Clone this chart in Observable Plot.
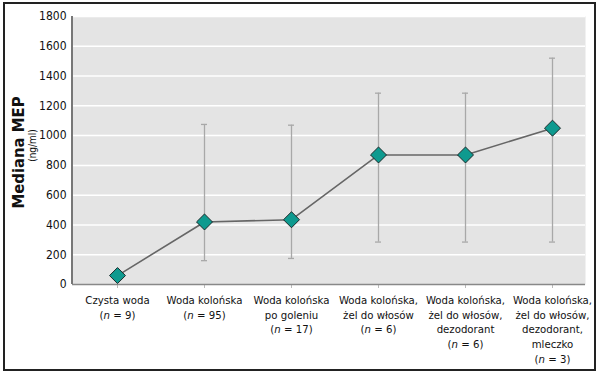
<!DOCTYPE html>
<html>
<head>
<meta charset="utf-8">
<script src="https://cdn.jsdelivr.net/npm/d3@7"></script>
<script src="https://cdn.jsdelivr.net/npm/@observablehq/plot@0.6"></script>
<style>
  html, body { margin: 0; padding: 0; background: #fff; }
  #wrap { position: relative; width: 600px; height: 374px; }
  #border { position: absolute; left: 3px; top: 2px; width: 589px; height: 365px; border: 2px solid #222; pointer-events: none; }
  svg text { font-family: "DejaVu Sans Condensed", sans-serif; font-stretch: condensed; }
</style>
</head>
<body>
<div id="wrap"><div id="border"></div></div>
<script>
const categories = [
  "Czysta woda\n(n = 9)",
  "Woda kolońska\n(n = 95)",
  "Woda kolońska\npo goleniu\n(n = 17)",
  "Woda kolońska,\nżel do włosów\n(n = 6)",
  "Woda kolońska,\nżel do włosów,\ndezodorant\n(n = 6)",
  "Woda kolońska,\nżel do włosów,\ndezodorant,\nmleczko\n(n = 3)"
];
const medians = [60, 420, 435, 870, 870, 1050];
const lows = [null, 160, 175, 285, 285, 285];
const highs = [null, 1075, 1070, 1285, 1285, 1520];
const yTicks = [0, 200, 400, 600, 800, 1000, 1200, 1400, 1600, 1800];

const data = categories.map((c, i) => ({cat: c, median: medians[i], low: lows[i], high: highs[i]}));
const errs = data.filter(d => d.low != null);

const chart = Plot.plot({
  width: 600,
  height: 374,
  marginLeft: 72,
  marginRight: 15,
  marginTop: 16,
  marginBottom: 90,
  style: {fontSize: "11.5px", color: "#111", background: "transparent"},
  x: {type: "point", domain: categories, range: [115, 553], padding: 0, label: null},
  y: {domain: [0, 1800], ticks: yTicks, tickFormat: d => String(d), label: null},
  marks: [
    Plot.frame({fill: "#e4e4e4", stroke: null}),
    Plot.gridY(yTicks.filter(t => t > 0), {stroke: "#fff", strokeOpacity: 1, strokeWidth: 1.5}),
    Plot.axisY({ticks: yTicks, tickFormat: d => String(d), tickSize: 0, tickPadding: 6, fontSize: 12, label: null}),
    Plot.axisX({tickSize: 4, stroke: "#bbb", tickPadding: 5, lineHeight: 1.3, fontSize: 11.3, label: null}),
    Plot.ruleX(errs, {x: "cat", y1: "low", y2: "high", stroke: "#a8a8a8", strokeWidth: 1.3}),
    Plot.ruleY(errs, {x1: "cat", x2: "cat", y: "low", stroke: "#a8a8a8", strokeWidth: 1.3, insetLeft: -3, insetRight: -3}),
    Plot.ruleY(errs, {x1: "cat", x2: "cat", y: "high", stroke: "#a8a8a8", strokeWidth: 1.3, insetLeft: -3, insetRight: -3}),
    Plot.ruleY([0], {stroke: "#888", strokeWidth: 1.5}),
    Plot.line(data, {x: "cat", y: "median", stroke: "#666", strokeWidth: 1.6}),
    Plot.dot(data, {x: "cat", y: "median", symbol: "diamond2", r: 7.2, fill: "#0e9a8f", stroke: "#1b2b2b", strokeWidth: 1, fillOpacity: 1}),
    Plot.text(["Mediana MEP"], {frameAnchor: "left", textAnchor: "middle", dx: -54, dy: 2, rotate: -90, fontSize: 16.5, fontWeight: "bold", fontFamily: "Liberation Sans, Arial, sans-serif", fill: "#111"}),
    Plot.text(["(ng/ml)"], {frameAnchor: "left", textAnchor: "middle", dx: -40, dy: -5, rotate: -90, fontSize: 10, fontFamily: "Liberation Sans, Arial, sans-serif", fill: "#111"})
  ]
});

// left axis line
const svg = d3.select(chart);
svg.append("line")
  .attr("x1", 72).attr("x2", 72)
  .attr("y1", 16).attr("y2", 284)
  .attr("stroke", "#777").attr("stroke-width", 2);

// italic "n"
svg.selectAll("tspan").each(function() {
  const t = this.textContent;
  const m = t.match(/^\(n = (\d+)\)$/);
  if (m) {
    const el = d3.select(this);
    el.text("(");
    el.append("tspan").attr("font-style", "italic").text("n");
    el.append("tspan").text(" = " + m[1] + ")");
  }
});

document.getElementById("wrap").prepend(chart);
</script>
</body>
</html>
